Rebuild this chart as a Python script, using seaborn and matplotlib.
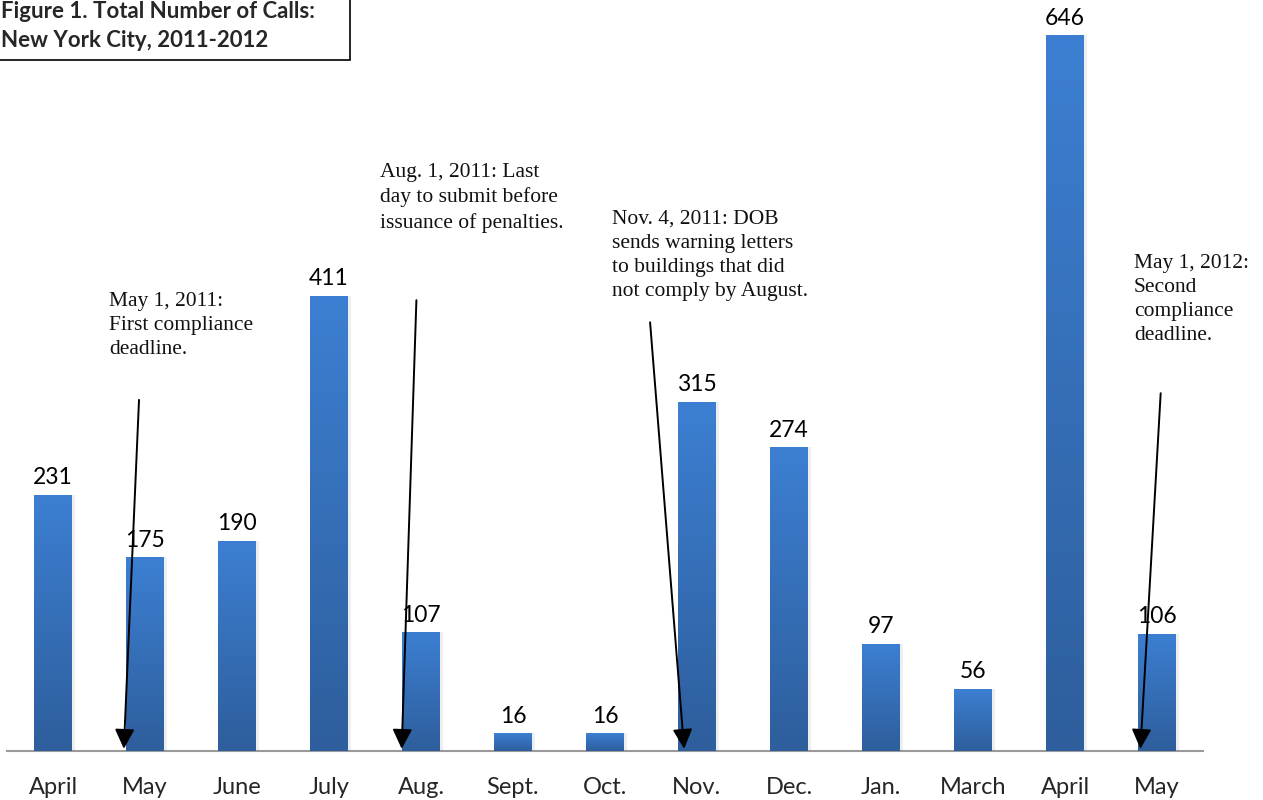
import numpy as np
import pandas as pd
import matplotlib
matplotlib.use("Agg")
import matplotlib.pyplot as plt
import seaborn as sns
from matplotlib.colors import LinearSegmentedColormap
from matplotlib.patches import Rectangle

months = ["April", "May", "June", "July", "Aug.", "Sept.", "Oct.", "Nov.",
          "Dec.", "Jan.", "March", "April", "May"]
calls = [231, 175, 190, 411, 107, 16, 16, 315, 274, 97, 56, 646, 106]

notes = ["May 1, 2011:\nFirst compliance\ndeadline.",
         "Aug. 1, 2011: Last\nday to submit before\nissuance of penalties.",
         "Nov. 4, 2011: DOB\nsends warning letters\nto buildings that did\nnot comply by August.",
         "May 1, 2012:\nSecond\ncompliance\ndeadline."]
note_pos_px = [(109, 292), (380, 163), (612, 210), (1134, 254)]
arrow_start = [(0.935, 317), (3.95, 407), (6.49, 387), (12.04, 323)]
arrow_end = [(0.77, 2), (3.79, 2), (6.86, 2), (11.82, 2)]

sns.set_theme(style="white")
plt.rcParams['font.family'] = ['Lato', 'DejaVu Sans']

W, H = 1263, 800
fig = plt.figure(figsize=(W / 100, H / 100), dpi=100)
ax = fig.add_axes([7 / W, 49 / H, 1196 / W, 751 / H])

df = pd.DataFrame({"month": [f"{m}_{i}" for i, m in enumerate(months)], "calls": calls})
sns.barplot(data=df, x="month", y="calls", ax=ax, width=0.41, color="#3a7bd0",
            saturation=1, edgecolor="none")
ax.set_xlim(-0.5, len(months) - 0.5)
ax.set_ylim(0, 678)

cmap = LinearSegmentedColormap.from_list("g", ["#2e5e9c", "#3c7fd2"])
grad = np.linspace(0, 1, 256).reshape(-1, 1)
for p in ax.patches:
    x0, y0 = p.get_x(), p.get_y()
    w, h = p.get_width(), p.get_height()
    sh = Rectangle((x0 + w, y0), 0.03, h, facecolor="#cccccc", alpha=0.3,
                   edgecolor="none", zorder=1)
    ax.add_patch(sh)
    im = ax.imshow(grad, extent=[x0, x0 + w, y0, y0 + h], origin="lower",
                   cmap=cmap, aspect="auto", zorder=2)
    im.set_clip_path(p)
    p.set_facecolor("none")
    ax.text(x0 + w / 2, y0 + h + 6, str(int(h)), ha="center", va="bottom",
            fontsize=16.5, color="black", zorder=3)

ax.set_xticks(range(len(months)))
ax.set_xticklabels(months, fontsize=17)
ax.tick_params(axis="x", length=0, pad=19)
ax.set_yticks([])
ax.set_xlabel("")
ax.set_ylabel("")
for s in ["top", "right", "left"]:
    ax.spines[s].set_visible(False)
ax.spines["bottom"].set_color("#9a9a9a")
ax.spines["bottom"].set_linewidth(1.5)
ax.spines["bottom"].set_zorder(1)

for (sx, sy), (ex, ey) in zip(arrow_start, arrow_end):
    ax.annotate("", xy=(ex, ey), xytext=(sx, sy),
                arrowprops=dict(arrowstyle="-|>,head_length=1.0,head_width=0.5",
                                color="black", lw=1.4, shrinkA=0, shrinkB=0),
                zorder=5)

for txt, (px, py) in zip(notes, note_pos_px):
    fig.text(px / W, 1 - py / H, txt, ha="left", va="top", fontsize=15.5,
             family=["Liberation Serif", "DejaVu Serif"], linespacing=1.36,
             color="#111111")

# title box
box = Rectangle((-5 / W, 1 - 60 / H), 355 / W, 70 / H, transform=fig.transFigure,
                facecolor="white", edgecolor="black", lw=1.2, zorder=10)
fig.patches.append(box)
fig.text(1 / W, 1 - 1 / H, "Figure 1. Total Number of Calls:\nNew York City, 2011-2012",
         ha="left", va="top", fontsize=16, fontweight="bold", linespacing=1.45,
         zorder=11)

fig.savefig("out.png", dpi=100)
